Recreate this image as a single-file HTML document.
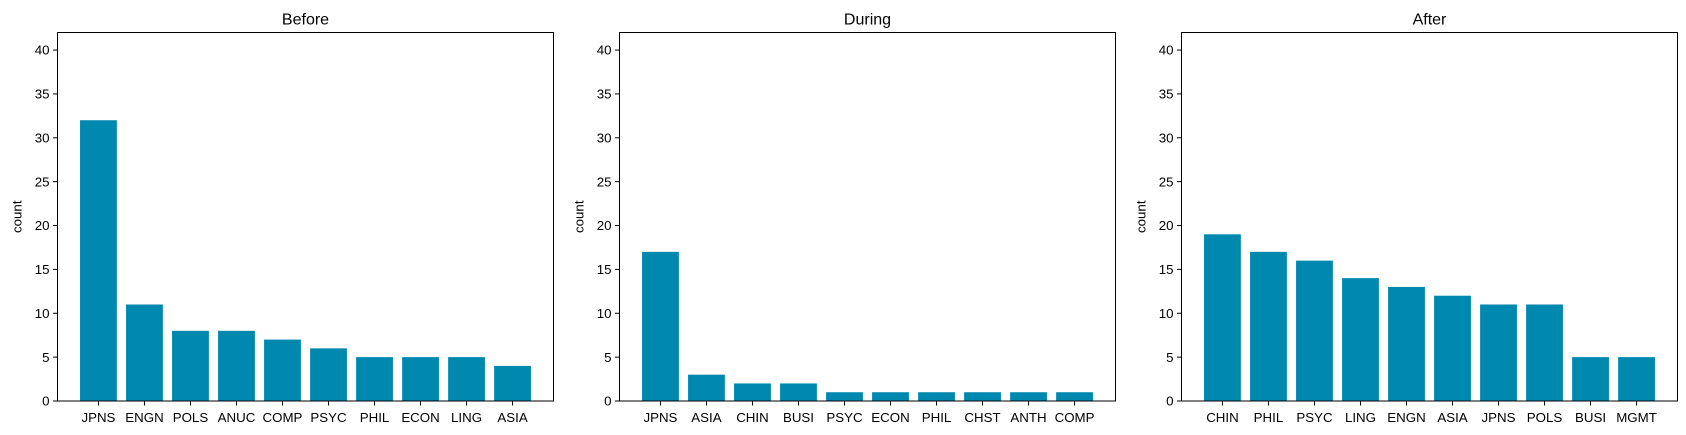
<!DOCTYPE html>
<html><head><meta charset="utf-8"><style>
body{margin:0;background:#fff;}
svg{display:block;font-family:"Liberation Sans","DejaVu Sans",sans-serif;}
</style></head><body>
<svg id="fig" width="1686" height="435"></svg>
<script>
const titles=["Before","During","After"];
const catsBefore=["JPNS","ENGN","POLS","ANUC","COMP","PSYC","PHIL","ECON","LING","ASIA"];
const valsBefore=[32,11,8,8,7,6,5,5,5,4];
const catsDuring=["JPNS","ASIA","CHIN","BUSI","PSYC","ECON","PHIL","CHST","ANTH","COMP"];
const valsDuring=[17,3,2,2,1,1,1,1,1,1];
const catsAfter=["CHIN","PHIL","PSYC","LING","ENGN","ASIA","JPNS","POLS","BUSI","MGMT"];
const valsAfter=[19,17,16,14,13,12,11,11,5,5];
const yTicks=[0,5,10,15,20,25,30,35,40];
const panels=[[catsBefore,valsBefore],[catsDuring,valsDuring],[catsAfter,valsAfter]];
const NS="http://www.w3.org/2000/svg";
const svgEl=document.getElementById('fig');
function mk(t,a,p){const e=document.createElementNS(NS,t);for(const k in a)e.setAttribute(k,a[k]);(p||svgEl).appendChild(e);return e;}
const lefts=[57.5,619.5,1181.5],W=496,axTop=32.5,axBot=401,yMax=42;
panels.forEach((pd,pi)=>{
  const [cats,vals]=pd;const L=lefts[pi];
  const g=mk('g',{});
  
  
  const n=cats.length;const x0=-0.4-0.05*(n-0.2),x1=n-1+0.4+0.05*(n-0.2);
  const xs=v=>L+(v-x0)/(x1-x0)*W;
  const ys=v=>axBot-v/yMax*(axBot-axTop);
  vals.forEach((v,i)=>{
    const r=mk('rect',{x:xs(i-0.4),y:ys(v),width:xs(i+0.4)-xs(i-0.4),height:axBot-ys(v),fill:'#0088ae'},g);
    
    
    mk('line',{x1:xs(i),x2:xs(i),y1:axBot,y2:axBot+4.5,stroke:'#000','stroke-width':1},g);
    const t=mk('text',{x:xs(i),y:axBot+21,'text-anchor':'middle','font-size':13.3,fill:'#000'},g);
    t.textContent=cats[i];
    
    
  });
  yTicks.forEach(v=>{
    mk('line',{x1:L-4.5,x2:L,y1:ys(v),y2:ys(v),stroke:'#000','stroke-width':1},g);
    const t=mk('text',{x:L-8,y:ys(v)+4.7,'text-anchor':'end','font-size':13.3,fill:'#000'},g);
    t.textContent=v;
    
    
  });
  mk('rect',{x:L,y:axTop,width:W,height:axBot-axTop,fill:'none',stroke:'#000','stroke-width':1},g);
  const ti=mk('text',{x:L+W/2,y:axTop-8,'text-anchor':'middle','font-size':16,fill:'#000'},g);
  ti.textContent=titles[pi];
  
  
  const yl=mk('text',{x:0,y:0,'text-anchor':'middle','font-size':13.3,fill:'#000',transform:`translate(${L-36},${(axTop+axBot)/2}) rotate(-90)`},g);
  yl.textContent='count';
  
  
});
</script>
</body></html>
